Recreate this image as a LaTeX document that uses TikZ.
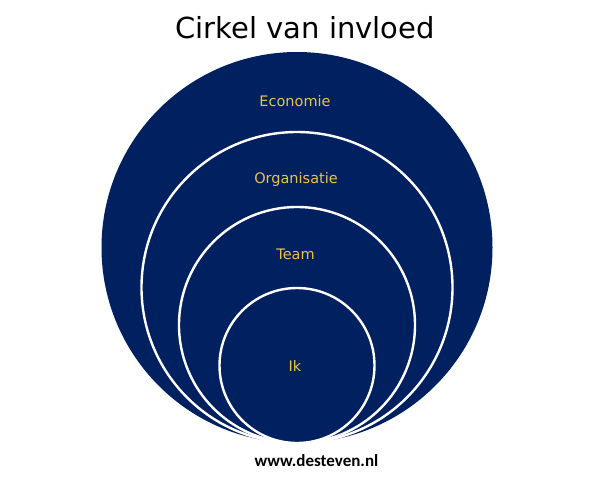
\documentclass[tikz,border=0pt]{standalone}
\usepackage{fontspec}
\setmainfont{DejaVu Sans}
\newfontfamily\webfont{Carlito}
\definecolor{navy}{HTML}{002060}
\definecolor{gold}{HTML}{E8C445}
\begin{document}
\begin{tikzpicture}[x=1pt,y=-1pt,
  ring/.style={fill=navy,draw=white,line width=2.4pt},
  lbl/.style={text=gold,font=\fontsize{14.5}{16}\selectfont,anchor=base,inner sep=0pt}]
\useasboundingbox (0,0) rectangle (591,480);
\fill[white] (0,0) rectangle (591,480);
\node[anchor=base,inner sep=0pt,font=\fontsize{29}{32}\selectfont] (title) at (305,38) {Cirkel van invloed};
\fill[navy] (297,247.5) circle[radius=195.5];
\draw[ring] (297,287.5) circle[radius=155.5];
\draw[ring] (297,325) circle[radius=118];
\draw[ring] (297,365.5) circle[radius=77.5];
\node[lbl] (eco) at (295,106) {Economie};
\node[lbl] (org) at (296,183) {Organisatie};
\node[lbl] (team) at (295.5,259) {Team};
\node[lbl] (ik) at (295,371) {Ik};
\node[anchor=base,inner sep=0pt,font=\webfont\bfseries\fontsize{17}{19}\selectfont] (web) at (316.5,466) {www.desteven.nl};
\end{tikzpicture}
\end{document}
